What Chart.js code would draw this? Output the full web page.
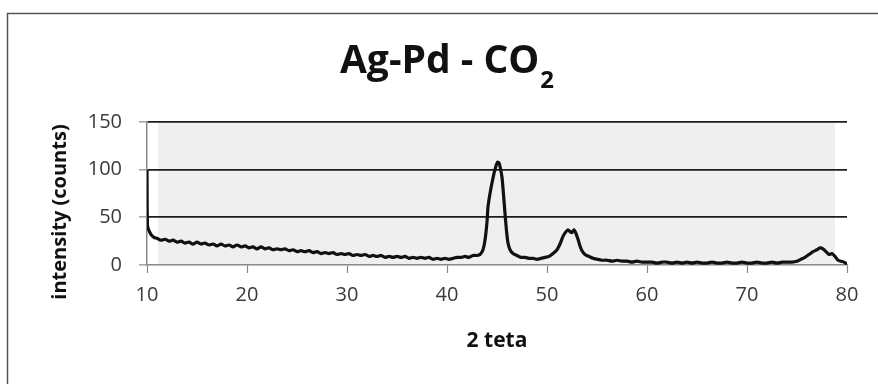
<!DOCTYPE html>
<html>
<head>
<meta charset="utf-8">
<script src="https://cdn.jsdelivr.net/npm/chart.js@4/dist/chart.umd.min.js"></script>
<style>
  html, body { margin: 0; padding: 0; background: #fff; }
  #xrdChart { display: block; }
</style>
</head>
<body>
<canvas id="xrdChart" width="878" height="384"></canvas>
<script>
// --------------------------------------------------- DATA
const twoTheta = [
  10.0, 10.05, 10.2, 10.4, 10.7, 11.0, 11.4, 11.8, 12.2, 12.6, 13.0, 13.4, 13.8, 14.2, 14.6,
  15.0, 15.4, 15.8, 16.2, 16.6, 17.0, 17.4, 17.8, 18.2, 18.6, 19.0, 19.4, 19.8,
  20.2, 20.6, 21.0, 21.4, 21.8, 22.2, 22.6, 23.0, 23.4, 23.8, 24.2, 24.6,
  25.0, 25.4, 25.8, 26.2, 26.6, 27.0, 27.4, 27.8, 28.2, 28.6, 29.0, 29.4, 29.8,
  30.2, 30.6, 31.0, 31.4, 31.8, 32.2, 32.6, 33.0, 33.4, 33.8, 34.2, 34.6,
  35.0, 35.4, 35.8, 36.2, 36.6, 37.0, 37.4, 37.8, 38.2, 38.6, 39.0, 39.4, 39.8,
  40.2, 40.6, 41.0, 41.4, 41.8, 42.2, 42.6, 43.0, 43.3, 43.6, 43.8,
  44.0, 44.1, 44.3, 44.5, 44.7, 44.9, 45.05, 45.2, 45.35, 45.5, 45.65, 45.8, 45.95,
  46.1, 46.3, 46.6, 47.0, 47.4, 47.8, 48.2, 48.6, 49.0, 49.4, 49.8,
  50.2, 50.6, 51.0, 51.3, 51.6, 51.9, 52.1, 52.3, 52.5, 52.7, 52.9, 53.1, 53.3, 53.5, 53.8,
  54.2, 54.6, 55.0, 55.5, 56.0, 56.5, 57.0, 57.5, 58.0, 58.5, 59.0, 59.5,
  60.0, 60.5, 61.0, 61.5, 62.0, 62.5, 63.0, 63.5, 64.0, 64.5, 65.0, 65.5, 66.0, 66.5,
  67.0, 67.5, 68.0, 68.5, 69.0, 69.5, 70.0, 70.5, 71.0, 71.5, 72.0, 72.5, 73.0, 73.5,
  74.0, 74.5, 75.0, 75.4, 75.8, 76.2, 76.6, 77.0, 77.3, 77.6, 77.9, 78.2, 78.5, 78.8,
  79.1, 79.4, 79.7, 80.0
]
const counts = [
  100, 41, 36, 32, 29, 28, 26, 27, 25, 26, 24, 25, 23, 24, 22,
  24, 22, 23, 21, 22, 20, 22, 20, 21, 19, 21, 19, 20,
  18, 19, 17, 19, 17, 18, 16, 17, 16, 17, 15, 16,
  14, 15, 14, 15, 13, 14, 12, 13, 12, 13, 11, 12, 11,
  12, 10, 11, 10, 11, 9, 10, 9, 10, 8, 9, 8,
  9, 8, 9, 7, 8, 7, 8, 7, 8, 6, 7, 6, 7,
  6, 7, 8, 8, 9, 8, 10, 10, 11, 16, 26,
  45, 61, 75, 86, 96, 104, 108, 107, 101, 92, 74, 54, 36,
  23, 16, 12, 10, 8, 8, 7, 7, 6, 7, 8,
  9, 12, 16, 22, 30, 35, 37, 35, 34, 37, 33, 27, 20, 15, 11,
  9, 7, 6, 5, 5, 4, 5, 4, 4, 3, 4, 3,
  3, 3, 2, 3, 3, 2, 3, 2, 3, 2, 3, 2, 2, 3,
  2, 2, 3, 2, 2, 3, 2, 2, 3, 2, 2, 3, 2, 3,
  3, 3, 4, 6, 8, 11, 14, 16, 18, 17, 14, 11, 12, 9,
  5, 4, 3, 1
]
const xTicks = [10, 20, 30, 40, 50, 60, 70, 80]
const yTicks = [0, 50, 100, 150]

const points = twoTheta.map((t, i) => ({ x: t, y: counts[i] }))

// --------------------------------------------------- PLUGINS
// white page, thin frame round the chart, grey plot fill
const frameAndFill = {
  id: 'frameAndFill',
  beforeDraw(chart) {
    const { ctx, chartArea, width, height } = chart
    ctx.save()
    ctx.fillStyle = '#ffffff'
    ctx.fillRect(0, 0, width, height)
    ctx.strokeStyle = '#555'
    ctx.lineWidth = 1.5
    ctx.strokeRect(7.5, 13.5, width + 20, height + 20)
    ctx.fillStyle = '#efefef'
    ctx.fillRect(chartArea.left + 11, chartArea.top, chartArea.width - 23, chartArea.height)
    ctx.restore()
  }
}

// chart title with a subscript 2, plus the rotated y axis title
const chemTitle = {
  id: 'chemTitle',
  afterDraw(chart) {
    const { ctx } = chart
    const main = 'Ag-Pd - CO'
    const sub = '2'
    ctx.save()
    ctx.fillStyle = '#111'
    ctx.textBaseline = 'alphabetic'
    ctx.font = 'bold 39px "Open Sans"'
    const mainW = ctx.measureText(main).width
    ctx.font = 'bold 24px "Open Sans"'
    const subW = ctx.measureText(sub).width
    const x0 = 447 - (mainW + subW + 1) / 2
    ctx.font = 'bold 39px "Open Sans"'
    ctx.fillText(main, x0, 73)
    ctx.font = 'bold 24px "Open Sans"'
    ctx.fillText(sub, x0 + mainW + 1, 88)

    ctx.translate(60, 212)
    ctx.rotate(-Math.PI / 2)
    ctx.textAlign = 'center'
    ctx.textBaseline = 'middle'
    ctx.font = 'bold 20px "Open Sans"'
    ctx.fillText('intensity (counts)', 0, 0)
    ctx.restore()
  }
}

// --------------------------------------------------- CHART
const xrdChart = new Chart(document.getElementById('xrdChart'), {
  type: 'line',
  data: {
    datasets: [{
      label: 'Ag-Pd - CO2',
      data: points,
      borderColor: '#111',
      borderWidth: 3.2,
      pointRadius: 0,
      tension: 0.25,
      fill: false
    }]
  },
  options: {
    responsive: false,
    animation: false,
    layout: { padding: { top: 122, left: 40, right: 31, bottom: 0 } },
    plugins: {
      legend: { display: false },
      tooltip: { enabled: false },
      title: { display: false }
    },
    scales: {
      x: {
        type: 'linear',
        min: 10,
        max: 80,
        afterBuildTicks: (scale) => { scale.ticks = xTicks.map(v => ({ value: v })) },
        afterFit: (scale) => { scale.height = 119 },
        ticks: {
          color: '#3a3a3a',
          font: { family: 'Open Sans', size: 20 },
          padding: 10,
          maxRotation: 0
        },
        grid: {
          drawOnChartArea: false,
          tickLength: 8,
          tickColor: '#888',
          tickWidth: 1.2
        },
        border: { color: '#888', width: 1.5 },
        title: {
          display: true,
          text: '2 teta',
          color: '#111',
          font: { family: 'Open Sans', size: 21, weight: 'bold' },
          padding: { top: 0, bottom: 30 }
        }
      },
      y: {
        min: 0,
        max: 150,
        afterBuildTicks: (scale) => { scale.ticks = yTicks.map(v => ({ value: v })) },
        afterFit: (scale) => { scale.width = 107 },
        ticks: {
          color: '#3a3a3a',
          font: { family: 'Open Sans', size: 20 },
          padding: 17
        },
        grid: {
          color: (c) => c.tick && c.tick.value === 0 ? 'rgba(0,0,0,0)' : '#1c1c1c',
          lineWidth: 1.7,
          tickLength: 8,
          tickColor: '#888',
          tickWidth: 1.2
        },
        border: { color: '#888', width: 1.5 }
      }
    }
  },
  plugins: [frameAndFill, chemTitle]
})
</script>
</body>
</html>
